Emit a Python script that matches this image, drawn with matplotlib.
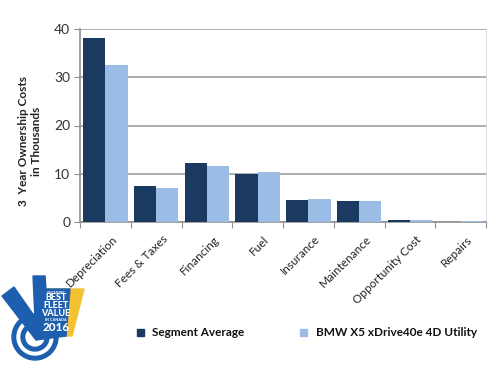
import numpy as np
import matplotlib.pyplot as plt
from matplotlib.patches import Circle, Polygon

plt.rcParams['font.family'] = ['Lato', 'DejaVu Sans']

categories = ['Depreciation', 'Fees & Taxes', 'Financing', 'Fuel', 'Insurance',
              'Maintenance', 'Opportunity Cost', 'Repairs']
segment_avg = [38.2, 7.4, 12.2, 9.9, 4.6, 4.3, 0.5, 0.05]
bmw_x5 = [32.5, 7.0, 11.7, 10.4, 4.8, 4.3, 0.35, 0.2]
series_names = ['Segment Average', 'BMW X5 xDrive40e 4D Utility']

W, H = 500, 366
fig = plt.figure(figsize=(5, 3.66), dpi=100)
fig.patch.set_facecolor('white')

# plot area in pixels: x 80..486, y 29..222
ax = fig.add_axes([80 / W, 1 - 222 / H, 406 / W, 193 / H])
dark = '#1b3a62'
light = '#9bbce4'

x = np.arange(len(categories))
bw = 0.44
ax.bar(x - bw / 2, segment_avg, bw, color=dark, zorder=3)
ax.bar(x + bw / 2, bmw_x5, bw, color=light, zorder=3)

ax.set_xlim(-0.5, len(categories) - 0.5)
ax.set_ylim(0, 40)
ax.set_yticks([0, 10, 20, 30, 40])
ax.yaxis.grid(True, color='#a0a0a0', lw=1.2, zorder=0)
ax.tick_params(axis='y', length=4, color='#909090', labelsize=10, labelcolor='#333333', pad=3)

ax.set_xticks(np.arange(len(categories) + 1) - 0.5)
ax.set_xticklabels([])
ax.tick_params(axis='x', length=4, color='#909090', direction='out')
for i, c in enumerate(categories):
    ax.text(i + 0.12, -2.4, c, rotation=45, ha='right', va='top',
            rotation_mode='anchor', fontsize=8.5, color='#222222')

for s in ['left', 'bottom']:
    ax.spines[s].set_color('#909090')
    ax.spines[s].set_linewidth(1.2)
ax.spines['right'].set_color('#d8dde8')
ax.spines['top'].set_visible(False)

fig.text(30 / W, 1 - 141 / H, '3  Year Ownership Costs\nin Thousands', rotation=90,
         ha='center', va='center', fontsize=8.5, fontweight='bold', color='#222222',
         linespacing=1.15)

# legend
fig.patches.append(plt.Rectangle((137 / W, 1 - 336 / H), 7 / W, 7 / H,
                                 transform=fig.transFigure, color=dark))
fig.text(152 / W, 1 - 332 / H, series_names[0], ha='left', va='center',
         fontsize=8.5, fontweight='bold', color='#111111')
fig.patches.append(plt.Rectangle((300 / W, 1 - 336 / H), 7 / W, 7 / H,
                                 transform=fig.transFigure, color=light))
fig.text(316 / W, 1 - 332 / H, series_names[1], ha='left', va='center',
         fontsize=8.5, fontweight='bold', color='#111111')

# logo
lg = fig.add_axes([0, 1 - 365 / H, 90 / W, 90 / H])
lg.set_xlim(0, 90)
lg.set_ylim(365, 275)
lg.axis('off')
blue = '#1d5fae'
lg.add_patch(Circle((35, 337), 23, color=blue))
lg.add_patch(Circle((35, 337), 18, color='white'))
lg.add_patch(Circle((35, 337), 14, color=blue))
lg.add_patch(Circle((35, 337), 9, color='white'))
lg.add_patch(Polygon([(2, 296), (14, 287), (44, 330), (36, 340)], color=blue))
lg.add_patch(Polygon([(40, 289), (84, 289), (72, 336), (40, 336)], color='#f2c233'))
lg.add_patch(Polygon([(33, 276), (45, 276), (46, 289), (70, 289), (66, 336), (36, 340)], color=blue))
lg.text(56, 290.5, 'VINCENTRIC', fontsize=2.3, color='white', ha='center', va='top', fontweight='bold')
for t, yy in [('BEST', 293), ('FLEET', 301), ('VALUE', 309)]:
    lg.text(56, yy, t, fontsize=6.5, color='white', ha='center', va='top', fontweight='black')
lg.text(56, 318, 'IN CANADA', fontsize=2.8, color='white', ha='center', va='top', fontweight='bold')
lg.text(56, 322, '2016', fontsize=8.5, color='white', ha='center', va='top', fontweight='black')

fig.savefig('out.png', dpi=100)
